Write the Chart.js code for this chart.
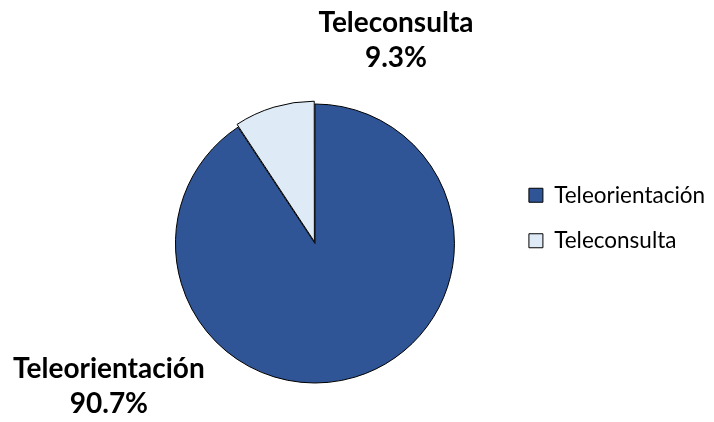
<!DOCTYPE html>
<html>
<head>
<meta charset="utf-8">
<script src="https://cdn.jsdelivr.net/npm/chart.js@4/dist/chart.umd.min.js"></script>
<style>
  html, body { margin: 0; padding: 0; background: #ffffff; }
  #wrap { width: 714px; height: 422px; }
</style>
</head>
<body>
<div id="wrap"><canvas id="c" width="714" height="422"></canvas></div>
<script>
// ---- data ----
const categories = ['Teleorientación', 'Teleconsulta'];
const percentages = [90.7, 9.3];
const sliceColors = ['#2F5597', '#DEEBF7'];
const explodeOffsets = [0, 8];

// label anchors (first-line baseline), as multiples of the pie radius from its centre
const labelAnchors = [
  { dx: -1.477, dy: 0.962 },
  { dx: 0.581, dy: -1.518 }
];

const pieLabels = {
  id: 'pieLabels',
  afterDatasetsDraw(chart) {
    const ctx = chart.ctx;
    const meta = chart.getDatasetMeta(0);
    const first = meta.data[0];
    const cx = first.x, cy = first.y, r = first.outerRadius;
    ctx.save();
    ctx.fillStyle = '#000000';
    ctx.font = 'bold 28px Lato, "Open Sans", sans-serif';
    ctx.textAlign = 'center';
    ctx.textBaseline = 'alphabetic';
    meta.data.forEach((arc, i) => {
      const a = labelAnchors[i];
      const x = cx + a.dx * r;
      const y = cy + a.dy * r;
      const v = chart.data.datasets[0].data[i];
      ctx.fillText(chart.data.labels[i], x, y);
      ctx.fillText(v.toFixed(1) + '%', x, y + 35.5);
    });
    ctx.restore();
  }
};

new Chart(document.getElementById('c'), {
  type: 'pie',
  data: {
    labels: categories,
    datasets: [{
      data: percentages,
      backgroundColor: sliceColors,
      borderColor: '#000000',
      borderWidth: 1,
      offset: explodeOffsets,
      clip: false
    }]
  },
  options: {
    responsive: false,
    animation: false,
    radius: 139.5,
    layout: { padding: { top: 161, bottom: 96, left: 124, right: -1.1 } },
    plugins: {
      tooltip: { enabled: false },
      legend: {
        position: 'right',
        align: 'start',
        labels: {
          boxWidth: 14,
          boxHeight: 14,
          padding: 23,
          color: '#000000',
          font: { family: 'Lato, "Open Sans", sans-serif', size: 22.5 }
        }
      }
    }
  },
  plugins: [pieLabels]
});
</script>
</body>
</html>
